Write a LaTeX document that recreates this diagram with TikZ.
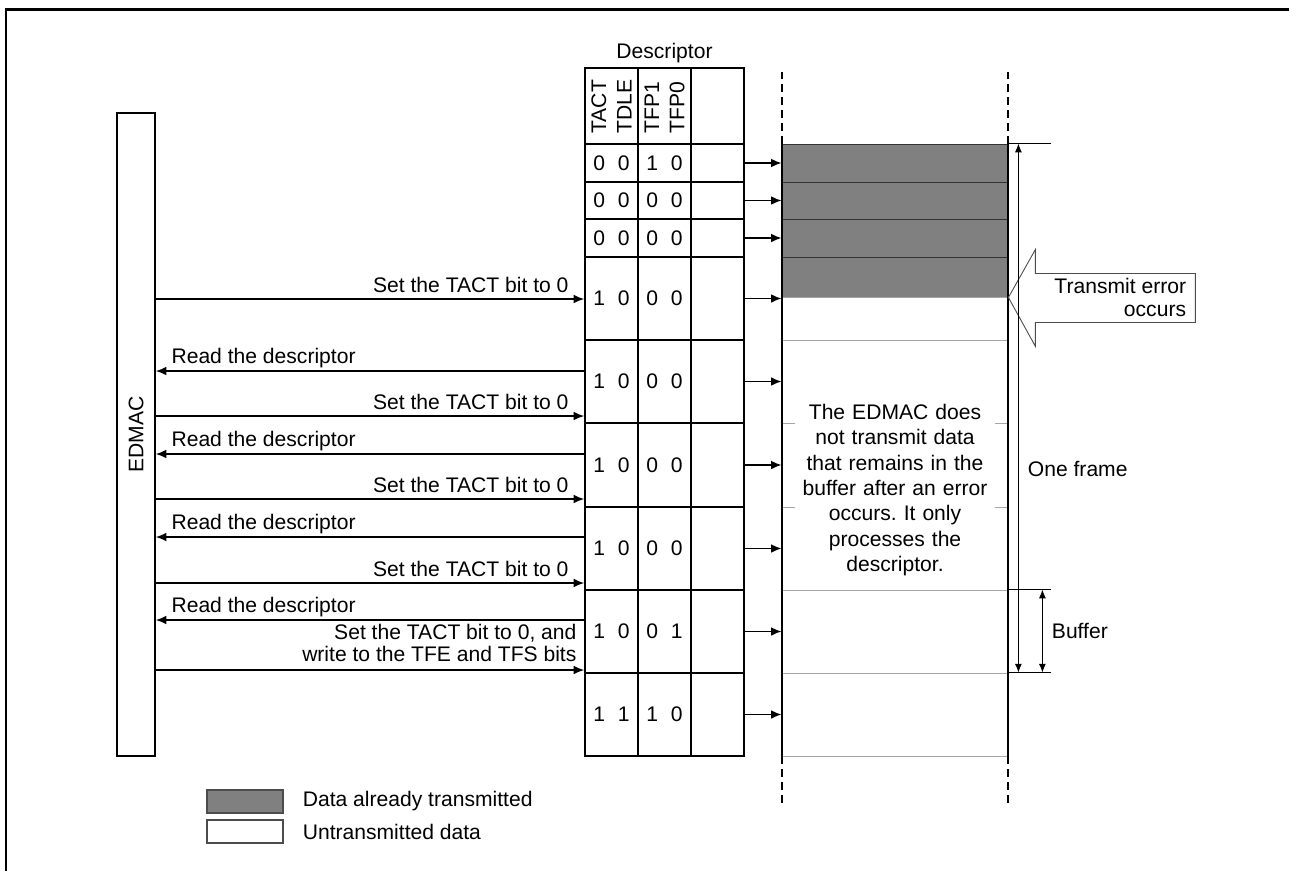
\documentclass[tikz,border=0pt]{standalone}
\usepackage{fontspec}
\setmainfont{Liberation Sans}
\usetikzlibrary{arrows.meta, positioning, calc}
\tikzstyle{cell} = [rectangle, draw, line width=0.9pt, inner sep=0pt, minimum width=1.06cm]
\tikzstyle{slot} = [rectangle, line width=0.5pt, inner sep=0pt, minimum width=4.52cm]
\tikzstyle{lbl} = [inner sep=0pt]
\tikzstyle{arrow} = [line width=0.9pt, -{Latex[length=6pt,width=5pt]}]
\tikzstyle{dim} = [line width=0.6pt, {Latex[length=5pt,width=4pt]}-{Latex[length=5pt,width=4pt]}]
\tikzstyle{dashes} = [line width=1.1pt, dash pattern=on 4.5pt off 2.8pt]
\tikzstyle{legbox} = [rectangle, draw=black!70, line width=0.6pt, minimum width=1.52cm, minimum height=0.46cm]
\newcommand{\bitpair}[2]{#1\hspace{0.6em}#2}
\frenchspacing

\begin{document}
\begin{tikzpicture}[x=0.02cm, y=-0.02cm, font=\fontsize{12}{14.4}\selectfont]
    \useasboundingbox (0,0) rectangle (1289,870);
    \draw[line width=1.7pt] (6,872) -- (6,9) -- (1292,9);

    % EDMAC
    \node (edmac) [rectangle, draw, line width=0.9pt, minimum width=0.76cm, minimum height=12.86cm] at (136,434.5) {};
    \node [rotate=90] at (edmac.center) {EDMAC};

    % descriptor table
    \foreach \r/\yt/\yb in {0/68/144, 1/144/182, 2/182/219, 3/219/257, 4/257/340, 5/340/423, 6/423/507, 7/507/590, 8/590/673, 9/673/756}
      \foreach \c/\xl in {1/585, 2/638, 3/691}
        \node (c\r-\c) [cell, minimum height={(\yb-\yt)*0.02cm}] at (\xl+26.5, {(\yt+\yb)/2}) {};
    \foreach \r/\a/\b/\p/\q in {1/0/0/1/0, 2/0/0/0/0, 3/0/0/0/0, 4/1/0/0/0, 5/1/0/0/0, 6/1/0/0/0, 7/1/0/0/0, 8/1/0/0/1, 9/1/1/1/0} {
      \node at (c\r-1) {\bitpair{\a}{\b}};
      \node at (c\r-2) {\bitpair{\p}{\q}};
    }
    \node [lbl, rotate=90, anchor=west, align=left] at ($(c0-1.south)+(0,-11)$) {TACT\\TDLE};
    \node [lbl, rotate=90, anchor=west, align=left] at ($(c0-2.south)+(0,-11)$) {TFP1\\TFP0};
    \node (desclbl) [lbl, above=0.08cm of c0-2] {Descriptor};

    % buffer
    \foreach \i/\yt/\yb/\f/\d in {1/144/182/gray/black!80, 2/182/219/gray/black!80, 3/219/257/gray/black!80, 4/257/297/gray/black!80, 5/297/340/white/gray!70, 6/340/423/white/gray!70, 7/423/507/white/gray!70, 8/507/590/white/gray!70, 9/590/673/white/gray!70, 10/673/756/white/gray!70}
      \node (b\i) [slot, fill=\f, draw=\d, minimum height={(\yb-\yt)*0.02cm}] at (895, {(\yt+\yb)/2}) {};
    \node (note) [fill=white, inner sep=0.05cm, align=center, text width=3.9cm] at (895,490) {The EDMAC does\\not transmit data\\that remains in the\\buffer after an error\\occurs. It only\\processes the\\descriptor.};
    \draw[line width=1.1pt] (b1.north west) -- (b10.south west);
    \draw[line width=1.1pt] (b1.north east) -- (b10.south east);
    \draw[dashes] (b1.north west) -- ++(0,-76);
    \draw[dashes] (b1.north east) -- ++(0,-76);
    \draw[dashes] (b10.south west) -- ++(0,51);
    \draw[dashes] (b10.south east) -- ++(0,51);
    \draw[line width=0.6pt] (b1.north east) -- ++(43,0);
    \draw[line width=0.6pt] (b9.north east) -- ++(43,0);
    \draw[line width=0.6pt] (b10.north east) -- ++(43,0);

    % table to buffer
    \foreach \r in {1,...,9}
      \draw[arrow] (c\r-3.east) -- (c\r-3.east -| b1.west);

    % transmit error
    \draw[draw=black!70, fill=white, line width=0.5pt] (b4.south east) -- ++(27,-48) -- ++(0,24) -- ++(160,0) -- ++(0,49) -- ++(-160,0) -- ++(0,24) -- cycle;
    \node (err) [lbl, align=right, anchor=east] at ($(b4.south east)+(178,0)$) {Transmit error\\[-1.5pt]occurs};

    \draw[dim] ($(b1.north east)+(10,0)$) -- node[lbl, pos=0.615, anchor=west, xshift=0.18cm] {One frame} ($(b10.north east)+(10,0)$);
    \draw[dim] ($(b9.north east)+(34,0)$) -- node[lbl, anchor=west, xshift=0.18cm] {Buffer} ($(b10.north east)+(34,0)$);

    % EDMAC <-> descriptor
    \foreach \y in {299,416,499,583}
      \draw[arrow] (edmac.east |- 0,\y) -- node[lbl, pos=1, anchor=base east, xshift=-0.3cm, yshift=0.14cm] {Set the TACT bit to 0} (c4-1.west |- 0,\y);
    \foreach \y in {371,454,537,620}
      \draw[arrow] (c4-1.west |- 0,\y) -- node[lbl, pos=1, anchor=base west, xshift=0.3cm, yshift=0.16cm] {Read the descriptor} (edmac.east |- 0,\y);
    \draw[arrow] (edmac.east |- 0,670) -- node[lbl, pos=1, anchor=south east, align=right, xshift=-0.14cm, yshift=0.16cm] {Set the TACT bit to 0, and\\[-2pt]write to the TFE and TFS bits} (c8-1.west |- 0,670);

    % legend
    \node (leggray) [legbox, fill=gray] at (245,801.5) {};
    \node (legwhite) [legbox, fill=white] at (245,831.5) {};
    \node (legtx1) [lbl, right=0.38cm of leggray] {Data already transmitted};
    \node (legtx2) [lbl, right=0.38cm of legwhite] {Untransmitted data};
\end{tikzpicture}
\end{document}
